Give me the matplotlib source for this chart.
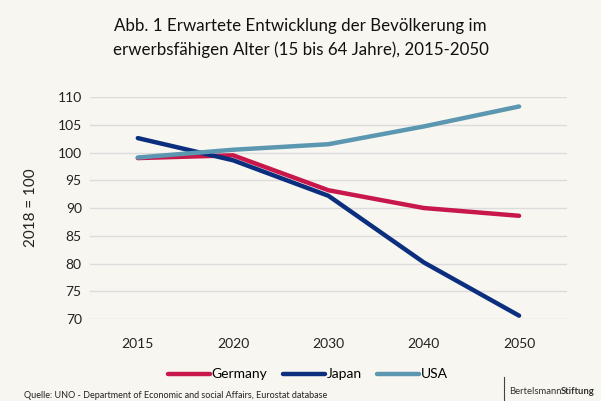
import matplotlib.pyplot as plt

years = ["2015", "2020", "2030", "2040", "2050"]
germany = [99.0, 99.5, 93.2, 90.0, 88.6]
japan = [102.6, 98.6, 92.2, 80.2, 70.6]
usa = [99.1, 100.5, 101.5, 104.7, 108.3]
yticks = [70, 75, 80, 85, 90, 95, 100, 105, 110]

bg = "#F8F6F0"
plt.rcParams["font.family"] = ["Lato", "DejaVu Sans"]

fig = plt.figure(figsize=(6.01, 4.01), dpi=100, facecolor=bg)
ax = fig.add_axes([0.150, 0.2045, 0.793, 0.5535], facecolor=bg)

x = range(len(years))
ax.plot(x, germany, color="#C8174A", lw=3.2, label="Germany", solid_capstyle="round")
ax.plot(x, japan, color="#0B2F7E", lw=3.2, label="Japan", solid_capstyle="round")
ax.plot(x, usa, color="#5B97B0", lw=3.2, label="USA", solid_capstyle="round")

ax.set_xlim(-0.5, 4.5)
ax.set_ylim(70, 110)
ax.set_yticks(yticks)
ax.set_xticks(list(x))
ax.set_xticklabels(years)
ax.grid(axis="y", color="#DCDCDC", lw=1)
ax.set_axisbelow(True)
for s in ax.spines.values():
    s.set_visible(False)
ax.tick_params(length=0, labelsize=10, colors="#222222", pad=6)
ax.tick_params(axis="x", pad=14)
ax.set_ylabel("2018 = 100", fontsize=11, color="#222222", labelpad=14)

fig.text(0.5, 0.905, "Abb. 1 Erwartete Entwicklung der Bevölkerung im\nerwerbsfähigen Alter (15 bis 64 Jahre), 2015-2050",
         ha="center", va="center", fontsize=12.2, color="#111111", linespacing=1.5)

ax.legend(loc="center", bbox_to_anchor=(0.457, -0.25), ncol=3, frameon=False,
          fontsize=10, handlelength=3.0, handletextpad=0.15, columnspacing=1.1)

fig.text(0.04, 0.003, "Quelle: UNO - Department of Economic and social Affairs, Eurostat database",
         fontsize=6.5, color="#222222", va="bottom")
fig.add_artist(plt.Line2D([0.838, 0.838], [0.0, 0.06], color="#444444", lw=0.8))
t2 = fig.text(0.99, 0.012, "Stiftung", fontsize=6.8, color="#333333", va="bottom", ha="right",
              fontweight="bold")
fig.canvas.draw()
bb = t2.get_window_extent(fig.canvas.get_renderer())
fig.text(bb.x0 / fig.bbox.width, 0.012, "Bertelsmann", fontsize=6.8, color="#333333",
         va="bottom", ha="right")

fig.savefig("out.png", dpi=100, facecolor=bg)
